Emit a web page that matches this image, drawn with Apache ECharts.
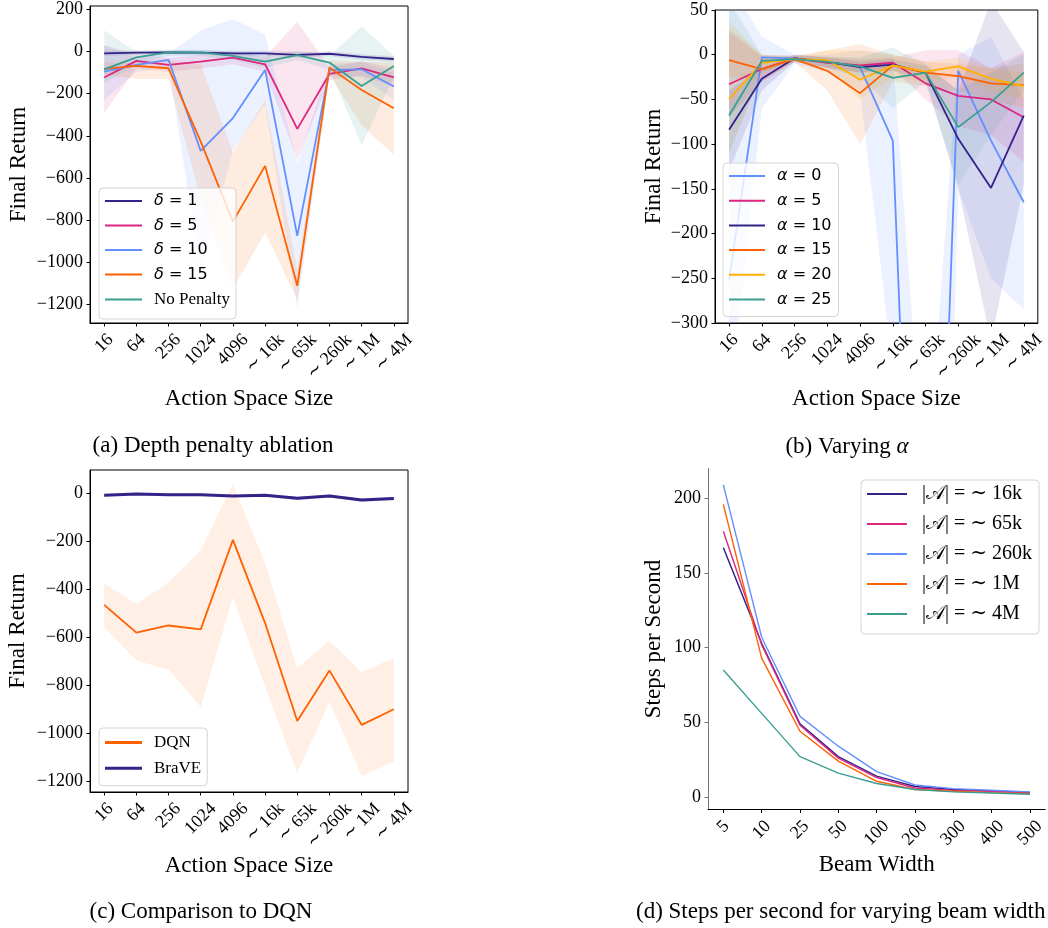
<!DOCTYPE html>
<html lang="en">
<head>
<meta charset="UTF-8">
<title>BraVE ablations</title>
<script src="https://cdn.jsdelivr.net/npm/echarts@6/dist/echarts.min.js"></script>
<style>html,body{margin:0;padding:0;background:#fff}</style>
</head>
<body>
<div id="main" style="width:1048px;height:928px;"></div>
<script type="text/javascript">
// tick labels
var sizeLabels = ['16', '64', '256', '1024', '4096', '∼ 16k', '∼ 65k', '∼ 260k', '∼ 1M', '∼ 4M'];
var beamLabels = ['5', '10', '25', '50', '100', '200', '300', '400', '500'];
var ticksA = [-1200, -1000, -800, -600, -400, -200, 0, 200];
var ticksB = [-300, -250, -200, -150, -100, -50, 0, 50];
var ticksC = [-1200, -1000, -800, -600, -400, -200, 0];
var ticksD = [0, 50, 100, 150, 200];

// (a) depth penalty ablation
var deltaNames = ['δ = 1', 'δ = 5', 'δ = 10', 'δ = 15', 'No Penalty'];
var d1 = [-8, -5, -3, -5, -8, -8, -15, -10, -25, -35];
var d1Lo = [-20, -15, -12, -15, -20, -20, -28, -22, -38, -48];
var d1Hi = [4, 5, 6, 5, 4, 4, -2, 2, -12, -22];
var d5 = [-123, -44, -63, -47, -28, -60, -367, -106, -79, -122];
var d5Lo = [-290, -80, -95, -80, -60, -95, -515, -135, -115, -165];
var d5Hi = [30, -10, -30, -15, 0, -25, 142, -75, -45, -80];
var d10 = [-95, -63, -39, -472, -316, -87, -876, -87, -84, -166];
var d10Lo = [-230, -95, -70, -1050, -470, -250, -1220, -115, -120, -230];
var d10Hi = [30, -30, -10, 100, 155, 80, -530, -60, -50, -100];
var d15 = [-82, -68, -79, -428, -808, -543, -1113, -76, -182, -269];
var d15Lo = [-110, -130, -130, -700, -1130, -860, -1180, -110, -350, -490];
var d15Hi = [-50, -50, -40, -60, -480, -230, -1040, -40, -50, -50];
var dNone = [-84, -27, -3, -3, -20, -47, -16, -52, -163, -68];
var dNoneLo = [-150, -60, -20, -20, -40, -75, -40, -85, -445, -120];
var dNoneHi = [100, 0, 10, 10, 0, -20, 5, -20, 120, -20];

// (b) varying alpha
var alphaNames = ['α = 0', 'α = 5', 'α = 10', 'α = 15', 'α = 20', 'α = 25'];
var a0 = [-252, -3, -4, -8, -14, -96, -1020, -18, -96, -165];
var a0Lo = [-400, -60, -10, -20, -40, -350, -1500, -150, -250, -285];
var a0Hi = [80, 20, 0, 0, 5, 0, -500, 0, 20, -50];
var a5 = [-33, -16, -4, -9, -12, -9, -32, -46, -50, -70];
var a5Lo = [-70, -30, -8, -15, -20, -15, -50, -80, -90, -120];
var a5Hi = [25, -2, 0, -3, -5, -3, 5, 5, -15, 3];
var a10 = [-84, -27, -4, -8, -14, -11, -20, -94, -149, -68];
var a10Lo = [-130, -40, -8, -14, -20, -18, -28, -150, -320, -145];
var a10Hi = [-40, -15, 0, -3, -8, -5, -12, -40, 60, 3];
var a15 = [-6, -16, -5, -18, -43, -12, -20, -24, -32, -34];
var a15Lo = [-25, -30, -8, -40, -100, -30, -35, -40, -50, -60];
var a15Hi = [30, 0, -2, 5, 12, 0, -8, -10, -15, -10];
var a20 = [-50, -9, -5, -6, -28, -12, -19, -13, -27, -35];
var a20Lo = [-110, -20, -8, -15, -50, -25, -30, -25, -40, -50];
var a20Hi = [38, 0, -2, 5, 5, 0, -8, -3, -15, -20];
var a25 = [-68, -7, -5, -8, -13, -26, -20, -81, -53, -20];
var a25Lo = [-110, -20, -8, -15, -25, -60, -30, -146, -90, -40];
var a25Hi = [60, 0, -2, -2, -3, 8, -10, -40, -20, 0];

// (c) comparison to DQN
var cmpNames = ['DQN', 'BraVE'];
var dqn = [-465, -581, -551, -567, -194, -541, -949, -739, -965, -900];
var dqnLo = [-558, -697, -736, -892, -433, -805, -1166, -868, -1178, -1118];
var dqnHi = [-375, -461, -372, -239, 39, -292, -729, -615, -746, -687];
var brave = [-8, -3, -6, -6, -11, -8, -21, -11, -28, -22];
var braveLo = [-14, -8, -11, -11, -16, -14, -29, -17, -36, -29];
var braveHi = [-3, 2, -1, -1, -6, -3, -14, -5, -21, -15];

// (d) steps per second
var beamNames = ['|𝒜| = ∼ 16k', '|𝒜| = ∼ 65k', '|𝒜| = ∼ 260k', '|𝒜| = ∼ 1M', '|𝒜| = ∼ 4M'];
var k16 = [167, 103, 49, 27, 14, 7, 5, 4, 3];
var k65 = [178, 102, 48, 26, 13, 6, 4.4, 3.8, 2.7];
var k260 = [209, 107, 54, 34, 17, 8, 5.6, 4.5, 3.4];
var m1 = [196, 93, 44, 24, 10.5, 5, 3.8, 2.9, 2.2];
var m4 = [85, 56, 27, 16, 9, 5, 3.4, 2.7, 1.8];

var NAVY = '#332288', MAGENTA = '#DC267F', BLUE = '#648FFF', ORANGE = '#FE6100', YELLOW = '#FFB000', TEAL = '#3a9f92';
var serif = '"Liberation Serif", "DejaVu Serif", serif';
var sans = '"DejaVu Sans", sans-serif';

var chart = echarts.init(document.getElementById('main'));

function pairs(vals) {
    return vals.map(function (v, i) { return [i, v]; });
}

function line(name, vals, color, gi, width) {
    return {
        name: name, type: 'line', xAxisIndex: gi, yAxisIndex: gi,
        data: pairs(vals), symbol: 'none', z: 3,
        lineStyle: { color: color, width: width || 1.8 },
        itemStyle: { color: color }
    };
}

// shaded band between lo and hi, drawn as one polygon through the axes
function band(lo, hi, color, gi, alpha) {
    return {
        type: 'custom', xAxisIndex: gi, yAxisIndex: gi, clip: true, silent: true, z: 1,
        data: lo.map(function (v, i) { return [i, v, hi[i]]; }),
        encode: { x: 0, y: [1, 2] },
        renderItem: function (params, api) {
            if (params.dataIndex !== 0) return;
            var top = [], bot = [];
            for (var i = 0; i < lo.length; i++) {
                top.push(api.coord([i, hi[i]]));
                bot.unshift(api.coord([i, lo[i]]));
            }
            return { type: 'polygon', shape: { points: top.concat(bot) }, style: { fill: color, opacity: alpha || 0.12 } };
        }
    };
}

// rotated labels centred on the tick like matplotlib: pad each one by half its width
var meas = document.createElement('canvas').getContext('2d');
function tickRich(labels, size) {
    meas.font = size + 'px "Liberation Serif"';
    var rich = {};
    labels.forEach(function (s, i) {
        var p = meas.measureText(s).width / 2;
        rich['t' + i] = { fontFamily: serif, fontSize: size, color: '#000', padding: [p, p, 0, 0] };
    });
    return rich;
}

function xAxis(gi, labels, pad, name, gap) {
    var idx = labels.map(function (s, i) { return i; });
    return {
        type: 'value', gridIndex: gi, min: -pad, max: labels.length - 1 + pad,
        axisLine: { onZero: false, lineStyle: { color: '#000', width: 1 } },
        axisTick: { customValues: idx, length: 3.5, lineStyle: { color: '#000' } },
        axisLabel: {
            customValues: idx, rotate: 45, align: 'center', verticalAlign: 'middle', margin: 14,
            formatter: function (v) { var i = Math.round(v); return '{t' + i + '|' + labels[i] + '}'; },
            rich: tickRich(labels, 18)
        },
        splitLine: { show: false },
        name: name, nameLocation: 'middle', nameGap: gap,
        nameTextStyle: { fontFamily: serif, fontSize: 23, color: '#000' }
    };
}

function yAxis(gi, min, max, ticks, name, gap, col) {
    col = col || '#000';
    return {
        type: 'value', gridIndex: gi, min: min, max: max,
        axisLine: { show: true, onZero: false, lineStyle: { color: col, width: 1 } },
        axisTick: { show: true, customValues: ticks, length: 3.5, lineStyle: { color: col } },
        axisLabel: {
            customValues: ticks, margin: 7, fontFamily: serif, fontSize: 18, color: '#000',
            formatter: function (v) { return String(v).replace('-', '−'); }
        },
        splitLine: { show: false },
        name: name, nameLocation: 'middle', nameGap: gap, nameRotate: 90,
        nameTextStyle: { fontFamily: serif, fontSize: 23, color: '#000' }
    };
}

function legend(names, left, top, opts) {
    return Object.assign({
        data: names, left: left, top: top, orient: 'vertical',
        icon: 'rect', itemWidth: 37, itemHeight: 2, itemGap: 8.5,
        padding: [5, 6, 11, 6],
        backgroundColor: 'rgba(255,255,255,0.8)', borderColor: '#d4d4d4', borderWidth: 1, borderRadius: 4,
        textStyle: {
            lineHeight: 14,
            rich: {
                g: { fontFamily: sans, fontStyle: 'italic', fontSize: 16, lineHeight: 14, color: '#000', padding: [0, 0, 0, 7] },
                m: { fontFamily: sans, fontSize: 16, lineHeight: 14, color: '#000' },
                s: { fontFamily: serif, fontSize: 17, lineHeight: 14, color: '#000', padding: [0, 0, 0, 7] },
                b: { fontFamily: serif, fontSize: 20, lineHeight: 20, color: '#000', padding: [0, 0, 0, 10] }
            }
        },
        formatter: function (name) {
            var c = name.charAt(0);
            if (c === 'δ' || c === 'α') return '{g|' + c + '}{m|' + name.slice(1) + '}';
            return '{s|' + name + '}';
        }
    }, opts || {});
}

var series = [
    band(d1Lo, d1Hi, NAVY, 0), band(d5Lo, d5Hi, MAGENTA, 0), band(d10Lo, d10Hi, BLUE, 0),
    band(d15Lo, d15Hi, ORANGE, 0), band(dNoneLo, dNoneHi, TEAL, 0),
    line(deltaNames[0], d1, NAVY, 0), line(deltaNames[1], d5, MAGENTA, 0), line(deltaNames[2], d10, BLUE, 0),
    line(deltaNames[3], d15, ORANGE, 0), line(deltaNames[4], dNone, TEAL, 0),

    band(a0Lo, a0Hi, BLUE, 1), band(a5Lo, a5Hi, MAGENTA, 1), band(a10Lo, a10Hi, NAVY, 1),
    band(a15Lo, a15Hi, ORANGE, 1), band(a20Lo, a20Hi, YELLOW, 1), band(a25Lo, a25Hi, TEAL, 1),
    line(alphaNames[0], a0, BLUE, 1), line(alphaNames[1], a5, MAGENTA, 1), line(alphaNames[2], a10, NAVY, 1),
    line(alphaNames[3], a15, ORANGE, 1), line(alphaNames[4], a20, YELLOW, 1), line(alphaNames[5], a25, TEAL, 1),

    band(dqnLo, dqnHi, ORANGE, 2, 0.1), band(braveLo, braveHi, NAVY, 2),
    line(cmpNames[0], dqn, ORANGE, 2), line(cmpNames[1], brave, NAVY, 2, 3),

    line(beamNames[0], k16, NAVY, 3, 1.4), line(beamNames[1], k65, MAGENTA, 3, 1.4),
    line(beamNames[2], k260, BLUE, 3, 1.4), line(beamNames[3], m1, ORANGE, 3, 1.4),
    line(beamNames[4], m4, TEAL, 3, 1.4)
];

function caption(text, x, y, align) {
    return {
        type: 'text', x: x, y: y,
        style: {
            text: text, font: '23px "Liberation Serif"', fill: '#000',
            align: align || 'center', verticalAlign: 'middle',
            textAlign: align || 'center', textVerticalAlign: 'middle',
            rich: {
                n: { fontFamily: serif, fontSize: 23, fill: '#000' },
                i: { fontFamily: serif, fontSize: 23, fontStyle: 'italic', fill: '#000' }
            }
        }
    };
}

var option = {
    animation: false,
    backgroundColor: '#fff',
    grid: [
        { left: 90, top: 6, width: 318, height: 317, show: true, borderColor: '#000', borderWidth: 1 },
        { left: 715, top: 10, width: 328, height: 313, show: true, borderColor: '#000', borderWidth: 1 },
        { left: 90, top: 470, width: 318, height: 322, show: true, borderColor: '#000', borderWidth: 1 },
        { left: 708, top: 468.5, width: 342, height: 341 }
    ],
    xAxis: [
        xAxis(0, sizeLabels, 0.44, 'Action Space Size', 64),
        xAxis(1, sizeLabels, 0.43, 'Action Space Size', 64),
        xAxis(2, sizeLabels, 0.44, 'Action Space Size', 62),
        xAxis(3, beamLabels, 0.4, 'Beam Width', 44)
    ],
    yAxis: [
        yAxis(0, -1290, 217, ticksA, 'Final Return', 60),
        yAxis(1, -300, 50, ticksB, 'Final Return', 50),
        yAxis(2, -1245, 97, ticksC, 'Final Return', 61),
        yAxis(3, -8.4, 220, ticksD, 'Steps per Second', 43, '#777')
    ],
    legend: [
        legend(deltaNames, 99, 188),
        legend(alphaNames, 723, 163, { itemWidth: 36, itemGap: 8.7, padding: [5, 7, 9, 6] }),
        legend(cmpNames, 99, 728, { itemHeight: 3, itemGap: 8.8, padding: [6, 6, 9, 6] }),
        legend(beamNames, 861, 480, {
            itemWidth: 40, itemGap: 10, padding: [4, 7, 10, 6],
            formatter: function (name) { return '{b|' + name + '}'; }
        })
    ],
    graphic: [
        caption('(a) Depth penalty ablation', 213, 446),
        caption('{n|(b) Varying }{i|α}', 847, 447),
        caption('(c) Comparison to DQN', 201, 912),
        caption('(d) Steps per second for varying beam width', 636, 912, 'left')
    ],
    series: series
};

chart.setOption(option);
</script>
</body>
</html>
